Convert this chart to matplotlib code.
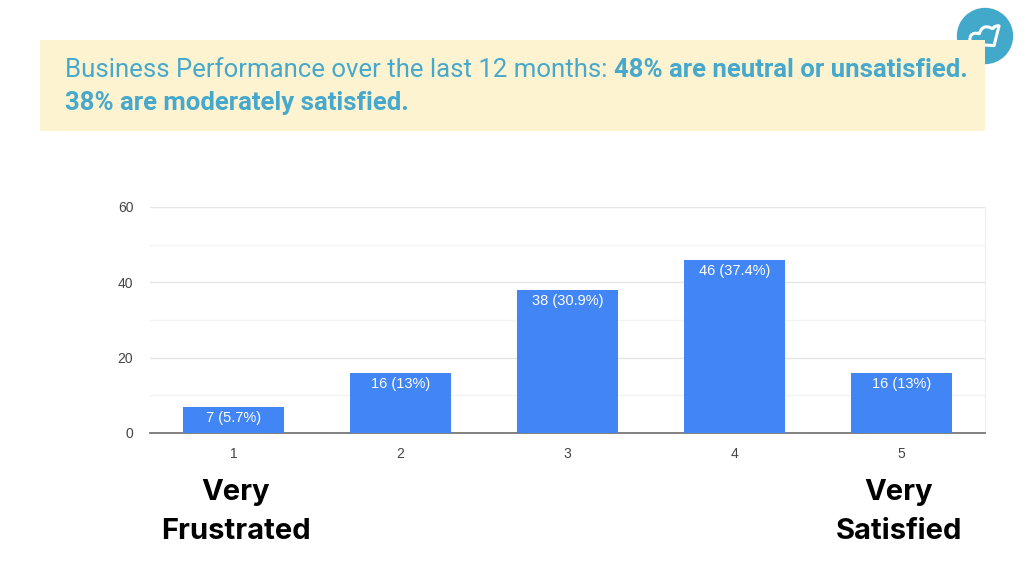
import matplotlib.pyplot as plt
from matplotlib.patches import Rectangle, Circle
from matplotlib.path import Path
from matplotlib.patches import PathPatch

# Chart data
ratings = [1, 2, 3, 4, 5]
counts = [7, 16, 38, 46, 16]
percents = ["5.7%", "13%", "30.9%", "37.4%", "13%"]
y_ticks = [0, 20, 40, 60]

title_light = "Business Performance over the last 12 months: "
title_bold_1 = "48% are neutral or unsatisfied."
title_bold_2 = "38% are moderately satisfied."
left_label = "Very\nFrustrated"
right_label = "Very\nSatisfied"

W, H = 1024, 576
title_color = "#46a9cc"
bar_color = "#4285f4"

fig = plt.figure(figsize=(W / 100, H / 100), dpi=100)
fig.patch.set_facecolor("white")


def fx(px):
    return px / W


def fy(py):
    return 1 - py / H


# Yellow header box
fig.patches.append(Rectangle((fx(40), fy(131)), fx(985) - fx(40), fy(40) - fy(131),
                             transform=fig.transFigure, facecolor="#fdf3d1",
                             edgecolor="none", zorder=0))

# Logo: circle with a cloud outline
logo_ax = fig.add_axes([fx(954), fy(67), 62 / W, 62 / H])
logo_ax.set_xlim(-1.1, 1.1)
logo_ax.set_ylim(-1.1, 1.1)
logo_ax.set_aspect("equal")
logo_ax.axis("off")
logo_ax.add_patch(Circle((0, 0), 1.0, facecolor="#42a9cb", edgecolor="none",
                         clip_on=False))
verts = [(-0.38, -0.3),
         (-0.62, -0.22), (-0.5, 0.02),
         (-0.4, 0.14), (-0.2, 0.08),
         (-0.1, 0.42), (0.18, 0.3),
         (0.3, 0.22), (0.32, 0.32),
         (0.42, 0.38), (0.5, 0.36),
         (0.32, -0.34),
         (-0.38, -0.3)]
codes = [Path.MOVETO,
         Path.CURVE3, Path.CURVE3,
         Path.CURVE3, Path.CURVE3,
         Path.CURVE3, Path.CURVE3,
         Path.CURVE3, Path.CURVE3,
         Path.CURVE3, Path.CURVE3,
         Path.LINETO,
         Path.LINETO]
logo_ax.add_patch(PathPatch(Path(verts, codes), facecolor="none", edgecolor="white",
                            linewidth=2.2, joinstyle="round", capstyle="round"))

# Title text
t1 = fig.text(fx(65), fy(70), title_light, fontsize=18.5, color=title_color,
              family="Roboto", weight="normal", va="center", ha="left")
fig.canvas.draw()
bb = t1.get_window_extent()
fig.text(bb.x1 / W, fy(70), title_bold_1, fontsize=18.5, color=title_color,
         family="Roboto", weight="bold", va="center", ha="left")
fig.text(fx(65), fy(103), title_bold_2, fontsize=18.5, color=title_color,
         family="Roboto", weight="bold", va="center", ha="left")

# Bar chart
ax = fig.add_axes([fx(150), fy(433), fx(985) - fx(150), fy(207) - fy(433)])
ax.bar(ratings, counts, width=0.61, color=bar_color, zorder=3)
for r, c, p in zip(ratings, counts, percents):
    ax.text(r, c - 1.2, f"{c} ({p})", ha="center", va="top", color="white",
            fontsize=10.5, family="Liberation Sans", zorder=4)

ax.set_xlim(0.5, 5.5)
ax.set_ylim(0, 60)
ax.set_yticks(y_ticks)
ax.set_yticks([10, 30, 50], minor=True)
ax.set_xticks(ratings)
ax.grid(axis="y", which="major", color="#e6e6e6", linewidth=1, zorder=0)
ax.grid(axis="y", which="minor", color="#f3f3f3", linewidth=1, zorder=0)
ax.tick_params(axis="both", which="both", length=0, labelsize=10, colors="#444444")
ax.tick_params(axis="x", pad=10)
ax.tick_params(axis="y", pad=12)
for lab in ax.get_xticklabels() + ax.get_yticklabels():
    lab.set_family("Liberation Sans")
for side in ["top", "left"]:
    ax.spines[side].set_visible(False)
ax.spines["right"].set_color("#eeeeee")
ax.spines["bottom"].set_color("#777777")
ax.spines["bottom"].set_linewidth(1.3)

# Scale end labels
fig.text(fx(236), fy(512), left_label, ha="center", va="center", fontsize=21,
         family="Inter", weight="bold", color="black", linespacing=1.6)
fig.text(fx(899), fy(512), right_label, ha="center", va="center", fontsize=21,
         family="Inter", weight="bold", color="black", linespacing=1.6)

fig.savefig("out.png", dpi=100)
